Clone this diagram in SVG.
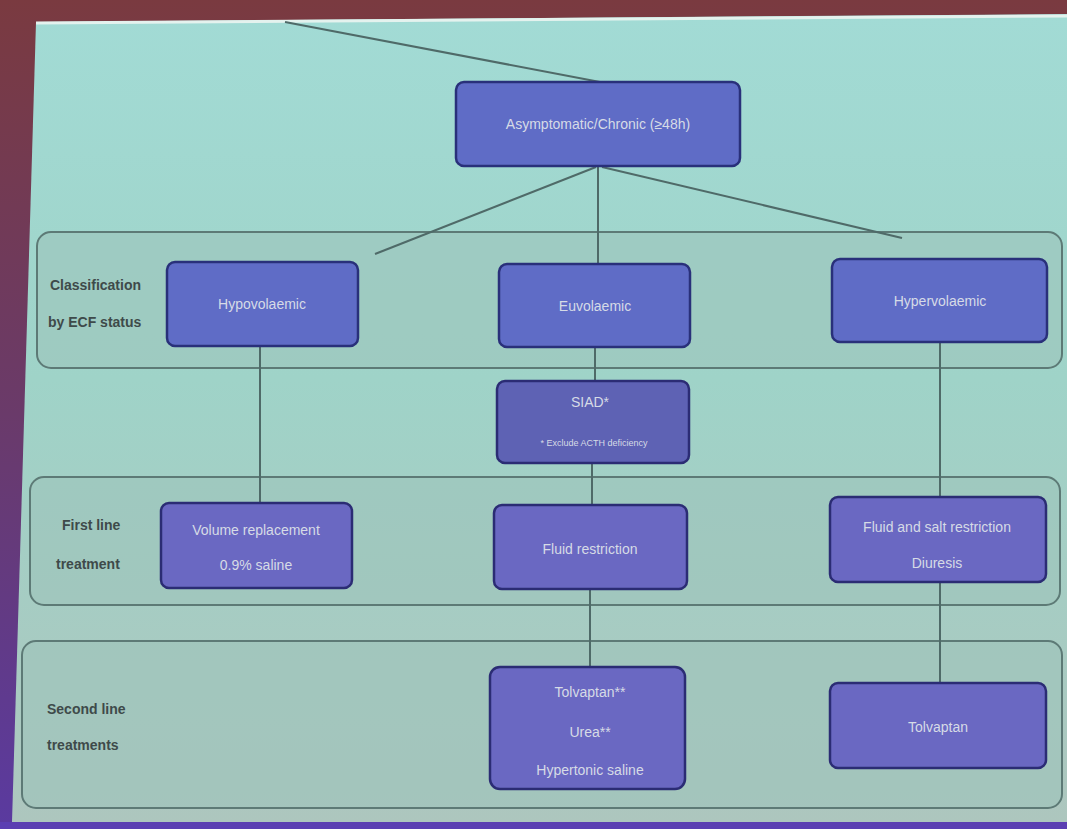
<svg xmlns="http://www.w3.org/2000/svg" width="1067" height="829" viewBox="0 0 1067 829">
<defs>
<linearGradient id="slide" x1="0" y1="0" x2="0" y2="1">
<stop offset="0" stop-color="#a2dbd5"/>
<stop offset="0.45" stop-color="#9fd3c8"/>
<stop offset="1" stop-color="#adc6be"/>
</linearGradient>
<linearGradient id="frame" x1="0" y1="0" x2="0" y2="1">
<stop offset="0" stop-color="#7a3a40"/>
<stop offset="0.5" stop-color="#6a3a6a"/>
<stop offset="1" stop-color="#5a3aa0"/>
</linearGradient>
<style>
.band{fill:#9cc3ba;fill-opacity:0.55;stroke:#5d7a76;stroke-width:2}
.box{fill:#5f6cc6;stroke:#29307a;stroke-width:2.5}
.box2{fill:#6a68c2;stroke:#2b2c74;stroke-width:2.5}
.bt{font-family:"Liberation Sans",Arial,sans-serif;font-size:14px;fill:#d6dbe6;text-anchor:middle}
.lbl{font-family:"Liberation Sans",Arial,sans-serif;font-size:14px;font-weight:bold;fill:#3e4a4a}
.con{stroke:#4f6a68;stroke-width:2;fill:none}
</style>
</defs>
<rect x="0" y="0" width="1067" height="829" fill="url(#frame)"/>
<polygon points="36,22 1067,14 1067,822 12,822" fill="url(#slide)"/>
<line x1="36" y1="23" x2="1067" y2="16" stroke="#e4f2ee" stroke-width="3"/>
<rect x="0" y="822" width="1067" height="7" fill="#5b3fb2"/>
<g id="bands">
<rect class="band" x="37" y="232" width="1025" height="136" rx="14"/>
<rect class="band" x="30" y="477" width="1030" height="128" rx="14"/>
<rect class="band" x="22" y="641" width="1040" height="167" rx="14"/>
</g>
<g id="connectors">
<line class="con" x1="285" y1="22" x2="600" y2="82"/>
<line class="con" x1="596" y1="167" x2="375" y2="254"/>
<line class="con" x1="598" y1="167" x2="598" y2="264"/>
<line class="con" x1="602" y1="167" x2="902" y2="238"/>
<line class="con" x1="260" y1="346" x2="260" y2="503"/>
<line class="con" x1="595" y1="347" x2="595" y2="381"/>
<line class="con" x1="592" y1="463" x2="592" y2="505"/>
<line class="con" x1="940" y1="342" x2="940" y2="497"/>
<line class="con" x1="590" y1="589" x2="590" y2="667"/>
<line class="con" x1="940" y1="582" x2="940" y2="683"/>
</g>
<g id="lbl-classification">
<text class="lbl" x="50" y="290">Classification</text>
<text class="lbl" x="48" y="327">by ECF status</text>
</g>
<g id="lbl-first">
<text class="lbl" x="62" y="530">First line</text>
<text class="lbl" x="56" y="569">treatment</text>
</g>
<g id="lbl-second">
<text class="lbl" x="47" y="714">Second line</text>
<text class="lbl" x="47" y="750">treatments</text>
</g>
<g id="n-top">
<rect class="box" x="456" y="82" width="284" height="84" rx="8"/>
<text class="bt" x="598" y="129">Asymptomatic/Chronic (≥48h)</text>
</g>
<g id="n-hypo">
<rect class="box" x="167" y="262" width="191" height="84" rx="8"/>
<text class="bt" x="262" y="309">Hypovolaemic</text>
</g>
<g id="n-euvo">
<rect class="box" x="499" y="264" width="191" height="83" rx="8"/>
<text class="bt" x="595" y="311">Euvolaemic</text>
</g>
<g id="n-hyper">
<rect class="box" x="832" y="259" width="215" height="83" rx="8"/>
<text class="bt" x="940" y="306">Hypervolaemic</text>
</g>
<g id="n-siad">
<rect class="box2" x="497" y="381" width="192" height="82" rx="8" style="fill:#5e62b4"/>
<text class="bt" x="590" y="407">SIAD*</text>
<text class="bt" x="594" y="446" style="font-size:9px">* Exclude ACTH deficiency</text>
</g>
<g id="n-volume">
<rect class="box2" x="161" y="503" width="191" height="85" rx="8"/>
<text class="bt" x="256" y="535">Volume replacement</text>
<text class="bt" x="256" y="570">0.9% saline</text>
</g>
<g id="n-fluid">
<rect class="box2" x="494" y="505" width="193" height="84" rx="8"/>
<text class="bt" x="590" y="554">Fluid restriction</text>
</g>
<g id="n-fluidsalt">
<rect class="box2" x="830" y="497" width="216" height="85" rx="8"/>
<text class="bt" x="937" y="532">Fluid and salt restriction</text>
<text class="bt" x="937" y="568">Diuresis</text>
</g>
<g id="n-second-mid">
<rect class="box2" x="490" y="667" width="195" height="122" rx="10"/>
<text class="bt" x="590" y="697">Tolvaptan**</text>
<text class="bt" x="590" y="737">Urea**</text>
<text class="bt" x="590" y="775">Hypertonic saline</text>
</g>
<g id="n-tolvaptan">
<rect class="box2" x="830" y="683" width="216" height="85" rx="8"/>
<text class="bt" x="938" y="732">Tolvaptan</text>
</g>
</svg>
